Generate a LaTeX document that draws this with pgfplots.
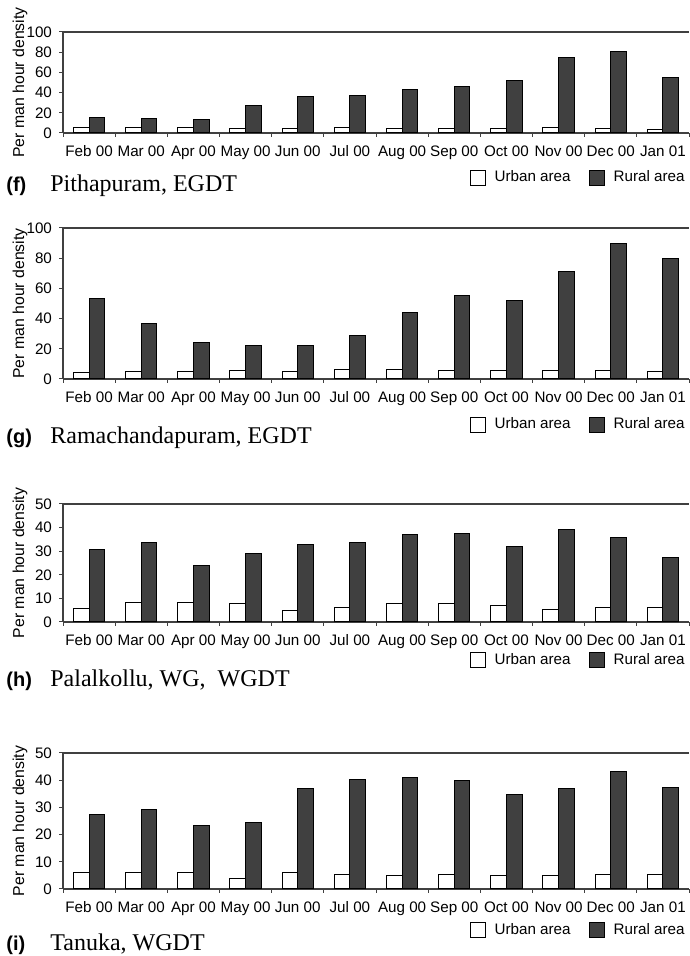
\documentclass[border=0pt]{standalone}
\usepackage{fontspec}
\setmainfont{Liberation Sans}
\newfontfamily\serif{Liberation Serif}
\usepackage{pgfplots}
\pgfplotsset{compat=1.18}
\definecolor{rural}{HTML}{404040}
\pgfplotsset{
 panel/.style={
  scale only axis, width=313pt,
  ybar=0pt, bar width=0.3,
  xmin=-0.5, xmax=11.5, ymin=0, enlarge x limits=false,
  xtick={-0.5,0.5,...,11.5}, x tick label as interval,
  xticklabels={Feb 00,Mar 00,Apr 00,May 00,Jun 00,Jul 00,Aug 00,Sep 00,Oct 00,Nov 00,Dec 00,Jan 01},
  axis x line*=bottom, axis y line*=left,
  axis line style={-, black!75, line width=0.6pt},
  tick align=outside, major tick length=2pt,
  tick style={black!75, line width=0.5pt},
  clip=false,
  ticklabel style={font=\fontsize{7.6}{9}\selectfont},
  xticklabel style={text height=6pt, text depth=1pt},
  /pgf/number format/assume math mode=true,
  ylabel={Per man hour density},
  ylabel style={at={(axis description cs:-0.0687,0.5)}, anchor=center, font=\fontsize{7.9}{9}\selectfont},
  legend columns=2,
  legend style={draw=none, fill=none, inner sep=0pt, anchor=east,
    font=\fontsize{7.6}{9}\selectfont,
    /tikz/every odd column/.append style={column sep=2.5pt},
    /tikz/every even column/.append style={column sep=7pt}},
  legend image code/.code={\draw[#1, line width=0.5pt] (0pt,-3.75pt) rectangle (7.5pt,3.75pt);},
  urban/.style={fill=white, draw=black, line width=0.5pt},
  ruralbar/.style={fill=rural, draw=black, line width=0.5pt},
 }
}
\begin{document}
\begin{tikzpicture}
% (f)
\begin{axis}[panel, at={(31.5pt,411.5pt)}, anchor=south west, height=50.5pt,
  ymax=100, ytick={0,20,...,100},
  legend style={at={(1,0)}, yshift=-22.5pt}]
\addplot[urban] coordinates {(0,5) (1,5) (2,5) (3,4.5) (4,4.5) (5,5) (6,4) (7,4.5) (8,4.5) (9,5) (10,4.5) (11,3.5)};
\addplot[ruralbar] coordinates {(0,15.5) (1,14) (2,13) (3,27) (4,36) (5,37.4) (6,42.6) (7,45.9) (8,51.5) (9,75) (10,80.7) (11,55)};
\legend{Urban area, Rural area}
\draw[black!75, line width=0.6pt] (rel axis cs:0,1) -- (rel axis cs:1,1);
\end{axis}
% (g)
\begin{axis}[panel, at={(31.5pt,288.5pt)}, anchor=south west, height=75.5pt,
  ymax=100, ytick={0,20,...,100},
  legend style={at={(1,0)}, yshift=-23pt}]
\addplot[urban] coordinates {(0,4.5) (1,5) (2,5) (3,5.5) (4,5) (5,6) (6,6.5) (7,5.5) (8,5.5) (9,5.5) (10,5.5) (11,5)};
\addplot[ruralbar] coordinates {(0,53) (1,37) (2,24) (3,22) (4,22) (5,29) (6,44) (7,55) (8,52) (9,71) (10,90) (11,80)};
\legend{Urban area, Rural area}
\draw[black!75, line width=0.6pt] (rel axis cs:0,1) -- (rel axis cs:1,1);
\end{axis}
% (h)
\begin{axis}[panel, at={(31.5pt,167pt)}, anchor=south west, height=59pt,
  ymax=50, ytick={0,10,...,50},
  legend style={at={(1,0)}, yshift=-19pt}]
\addplot[urban] coordinates {(0,5.8) (1,8.1) (2,8.4) (3,7.7) (4,4.8) (5,6.2) (6,8) (7,7.7) (8,6.8) (9,5.5) (10,6.1) (11,6.1)};
\addplot[ruralbar] coordinates {(0,30.7) (1,33.8) (2,24) (3,29.1) (4,32.8) (5,33.8) (6,37.1) (7,37.6) (8,31.8) (9,39) (10,35.7) (11,27.4)};
\legend{Urban area, Rural area}
\draw[black!75, line width=0.6pt] (rel axis cs:0,1) -- (rel axis cs:1,1);
\end{axis}
% (i)
\begin{axis}[panel, at={(31.5pt,33.5pt)}, anchor=south west, height=68pt,
  ymax=50, ytick={0,10,...,50},
  legend style={at={(1,0)}, yshift=-20.5pt}]
\addplot[urban] coordinates {(0,6.2) (1,6.2) (2,5.9) (3,3.8) (4,6.2) (5,5.3) (6,4.9) (7,5.3) (8,4.9) (9,4.9) (10,5.3) (11,5.3)};
\addplot[ruralbar] coordinates {(0,27.3) (1,29.2) (2,23.4) (3,24.6) (4,36.8) (5,40.1) (6,40.9) (7,40) (8,34.7) (9,37) (10,43.3) (11,37.3)};
\legend{Urban area, Rural area}
\draw[black!75, line width=0.6pt] (rel axis cs:0,1) -- (rel axis cs:1,1);
\end{axis}
% panel titles
\node[anchor=base west, inner sep=0pt, font=\fontsize{10}{11}\selectfont\bfseries] at (3pt,382pt) {(f)};
\node[anchor=base west, inner sep=0pt, font=\serif\fontsize{12}{14}\selectfont] at (25pt,382pt) {Pithapuram, EGDT};
\node[anchor=base west, inner sep=0pt, font=\fontsize{10}{11}\selectfont\bfseries] at (3pt,256pt) {(g)};
\node[anchor=base west, inner sep=0pt, font=\serif\fontsize{12}{14}\selectfont] at (25pt,256pt) {Ramachandapuram, EGDT};
\node[anchor=base west, inner sep=0pt, font=\fontsize{10}{11}\selectfont\bfseries] at (3pt,134.5pt) {(h)};
\node[anchor=base west, inner sep=0pt, font=\serif\fontsize{12}{14}\selectfont] at (25pt,134.5pt) {Palalkollu, WG,\ \ WGDT};
\node[anchor=base west, inner sep=0pt, font=\fontsize{10}{11}\selectfont\bfseries] at (3pt,2.5pt) {(i)};
\node[anchor=base west, inner sep=0pt, font=\serif\fontsize{12}{14}\selectfont] at (25pt,2.5pt) {Tanuka, WGDT};
\pgfresetboundingbox
\useasboundingbox (0,0) rectangle (344.5pt,478pt);
\end{tikzpicture}
\end{document}
